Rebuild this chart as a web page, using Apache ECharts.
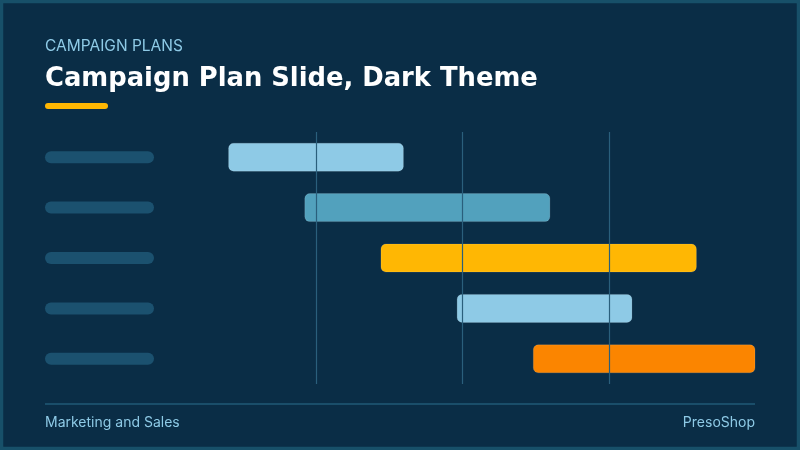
<!DOCTYPE html>
<html>
<head>
<meta charset="utf-8">
<script src="https://cdn.jsdelivr.net/npm/echarts@6/dist/echarts.min.js"></script>
<style>
html,body{margin:0;padding:0;background:#0a2d46;}
#chart{width:800px;height:450px;}
</style>
</head>
<body>
<div id="chart"></div>
<script>
// ---- data ----
const categories = ['Task 1', 'Task 2', 'Task 3', 'Task 4', 'Task 5'];
const startValues = [10, 23, 36, 49, 62];
const endValues = [40, 65, 90, 79, 100];
const milestoneValues = [25, 50, 75];
const placeholderValues = [1, 1, 1, 1, 1];
const barColors = ['#8ecae6', '#52a1bd', '#ffb703', '#8ecae6', '#fb8500'];

const durations = endValues.map((e, i) => e - startValues[i]);

const chart = echarts.init(document.getElementById('chart'), null, {renderer: 'canvas'});
const FONT = 'Inter, "Open Sans", "Noto Sans", sans-serif';
const TITLE_FONT = '"DejaVu Sans", Inter, sans-serif';

const option = {
  backgroundColor: '#0a2d46',
  animation: false,
  grid: [
    {left: 169.5, right: 44.5, top: 132, height: 252},
    {left: 45, width: 109, top: 132, height: 252}
  ],
  xAxis: [
    {gridIndex: 0, type: 'value', min: 0, max: 100, interval: 25, show: false},
    {gridIndex: 1, type: 'value', min: 0, max: 1, show: false}
  ],
  yAxis: [
    {gridIndex: 0, type: 'category', data: categories, inverse: true, show: false},
    {gridIndex: 1, type: 'category', data: categories, inverse: true, show: false}
  ],
  series: [
    {
      type: 'bar', xAxisIndex: 0, yAxisIndex: 0, stack: 'gantt',
      data: startValues, barWidth: 29,
      itemStyle: {color: 'transparent'}, silent: true
    },
    {
      type: 'bar', xAxisIndex: 0, yAxisIndex: 0, stack: 'gantt',
      barWidth: 29,
      data: durations.map((d, i) => ({
        value: d,
        itemStyle: {color: barColors[i]}
      })),
      itemStyle: {borderRadius: 5, borderColor: 'rgba(255,255,255,0.12)', borderWidth: 1},
      markLine: {
        silent: true, symbol: 'none', z: 10,
        label: {show: false},
        lineStyle: {color: '#2a5f7c', width: 1.2, type: 'solid'},
        data: milestoneValues.map(v => ({xAxis: v}))
      }
    },
    {
      type: 'bar', xAxisIndex: 1, yAxisIndex: 1,
      data: placeholderValues, barWidth: 12,
      itemStyle: {color: '#1b516f', borderRadius: 6}, silent: true
    }
  ],
  graphic: [
    {type: 'rect', shape: {x: 1.5, y: 1.5, width: 797, height: 447}, style: {fill: null, stroke: '#175069', lineWidth: 3.5}, z: 100},
    {type: 'text', left: 45, top: 38, style: {text: 'CAMPAIGN PLANS', fill: '#8ecae6', font: '400 15.5px ' + FONT}},
    {type: 'text', left: 45, top: 66, style: {text: 'Campaign Plan Slide, Dark Theme', fill: '#ffffff', font: '700 25.8px ' + TITLE_FONT}},
    {type: 'rect', shape: {x: 45, y: 103, width: 63, height: 6, r: 3}, style: {fill: '#ffb703'}},
    {type: 'rect', shape: {x: 45, y: 403, width: 710, height: 2}, style: {fill: '#1a4e6a'}},
    {type: 'text', left: 45, top: 416, style: {text: 'Marketing and Sales', fill: '#8ecae6', font: '400 14px ' + FONT}},
    {type: 'text', right: 45, top: 416, style: {text: 'PresoShop', fill: '#8ecae6', font: '400 14px ' + FONT, textAlign: 'right'}}
  ]
};
chart.setOption(option);
</script>
</body>
</html>
